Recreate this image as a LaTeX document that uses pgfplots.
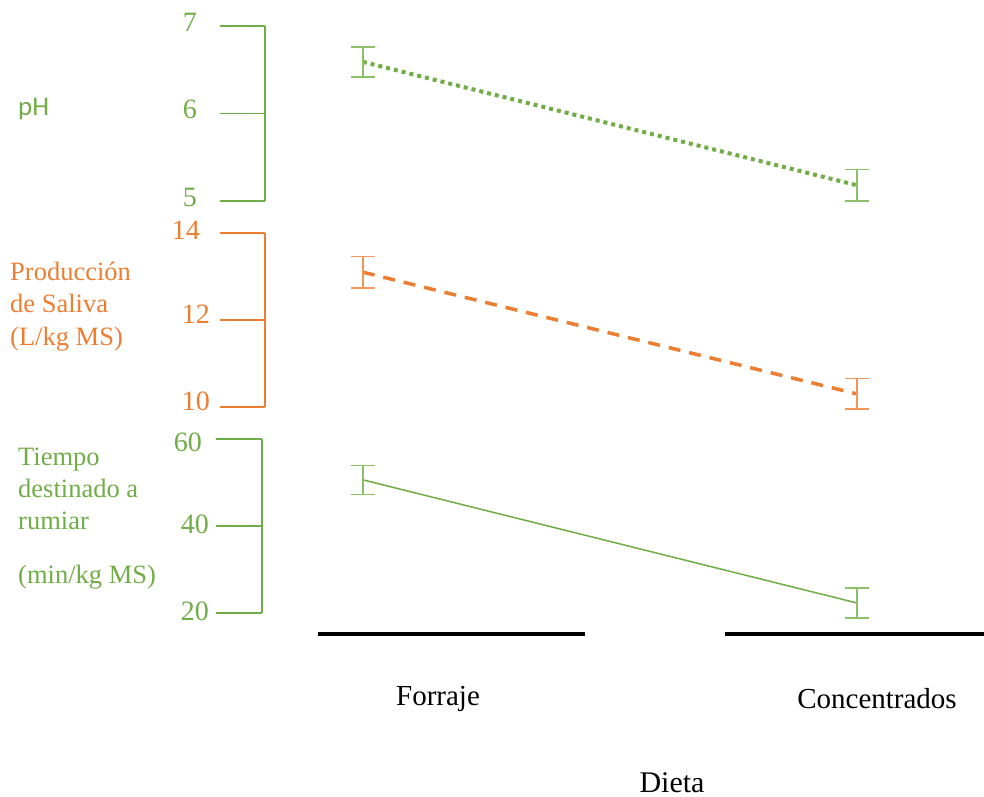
\documentclass[border=0pt]{standalone}
\usepackage{fontspec}
\setmainfont{Liberation Serif}
\newfontfamily\carlito{Carlito}
\usepackage{pgfplots}
\pgfplotsset{compat=1.18}
\definecolor{ogreen}{RGB}{112,173,71}
\definecolor{oorange}{RGB}{237,125,49}
\definecolor{lgreen}{RGB}{140,192,104}
\definecolor{lorange}{RGB}{242,150,90}
\pgfplotsset{
  panel/.style={
    scale only axis, width=719pt, height=175pt,
    xmin=-0.198, xmax=1.257,
    axis y line*=left, axis x line=none,
    clip=false, xtick=\empty,
    major tick length=45pt, tick align=outside,
    y axis line style={line width=1.5pt},
    ytick style={line width=1.5pt},
    yticklabel style={font=\fontsize{28}{30}\selectfont, anchor=east, inner sep=0pt},
    /pgf/number format/assume math mode=true,
  },
  ebar/.style={error bars/.cd, y dir=both, y explicit,
    error bar style={#1, line width=1.5pt, solid},
    error mark options={#1, rotate=90, mark size=12pt, line width=1.5pt, solid}},
}
\begin{document}
\begin{tikzpicture}
\path[use as bounding box] (0pt,0pt) rectangle (984pt,-796pt);
% pH
\begin{axis}[panel, at={(265pt,-201pt)}, anchor=south west,
  ymin=5, ymax=7, ytick={5,6,7}, axis line style={ogreen}, ytick style={ogreen, line width=1.5pt},
  yticklabel style={text=ogreen, xshift=-23pt, yshift=4pt}]
\addplot[ogreen, line width=4pt, dash pattern=on 4pt off 4pt, ebar=lgreen]
  coordinates {(0,6.59) +- (0,0.17) (1,5.18) +- (0,0.18)};
\end{axis}
% Saliva
\begin{axis}[panel, at={(265pt,-407pt)}, anchor=south west, height=174pt,
  ymin=10, ymax=14, ytick={10,12}, axis line style={oorange}, ytick style={oorange, line width=1.5pt},
  yticklabel style={text=oorange, xshift=-10pt, yshift=6pt},
  extra y ticks={14},
  extra y tick style={ytick style={oorange, line width=1.5pt}, yticklabel style={text=oorange, xshift=-10pt, yshift=-3.5pt}}]
\addplot[oorange, line width=3.5pt, dash pattern=on 12pt off 9pt, ebar=lorange]
  coordinates {(0,13.1) +- (0,0.36) (1,10.3) +- (0,0.35)};
\end{axis}
% Tiempo
\begin{axis}[panel, at={(262pt,-613pt)}, anchor=south west, height=174pt, width=722pt,
  xmin=-0.2045, major tick length=46pt,
  ymin=20, ymax=60, ytick={20,40}, axis line style={ogreen}, ytick style={ogreen, line width=1.5pt},
  yticklabel style={text=ogreen, xshift=-7pt, yshift=1.5pt},
  extra y ticks={60},
  extra y tick style={ytick style={ogreen, line width=1.5pt}, yticklabel style={text=ogreen, xshift=-7pt, yshift=-5pt}}]
\addplot[ogreen, line width=1.5pt, ebar=lgreen]
  coordinates {(0,50.6) +- (0,3.3) (1,22.3) +- (0,3.5)};
\end{axis}
% category bars and labels
\draw[line width=4pt] (318pt,-634pt) -- (585pt,-634pt);
\draw[line width=4pt] (725pt,-634pt) -- (984pt,-634pt);
\node[font=\fontsize{29}{32}\selectfont, anchor=base, inner sep=0pt] at (438pt,-705pt) {Forraje};
\node[font=\fontsize{29}{32}\selectfont, anchor=base, inner sep=0pt] at (877pt,-708pt) {Concentrados};
\node[font=\fontsize{30}{32}\selectfont, anchor=base, inner sep=0pt] at (672pt,-792pt) {Dieta};
% panel titles
\node[font=\carlito\fontsize{27}{30}\selectfont, text=ogreen, anchor=base west, inner sep=0pt] at (18pt,-115pt) {pH};
\begin{scope}[every node/.style={font=\fontsize{26.5}{30}\selectfont, anchor=base west, inner sep=0pt}]
\node[text=oorange] at (10pt,-280pt) {Producción};
\node[text=oorange] at (10pt,-312pt) {de Saliva};
\node[text=oorange] at (10pt,-345pt) {(L/kg MS)};
\node[text=ogreen] at (18pt,-465pt) {Tiempo};
\node[text=ogreen] at (18pt,-497pt) {destinado a};
\node[text=ogreen] at (18pt,-529pt) {rumiar};
\node[text=ogreen] at (18pt,-583pt) {(min/kg MS)};
\end{scope}
\end{tikzpicture}
\end{document}
